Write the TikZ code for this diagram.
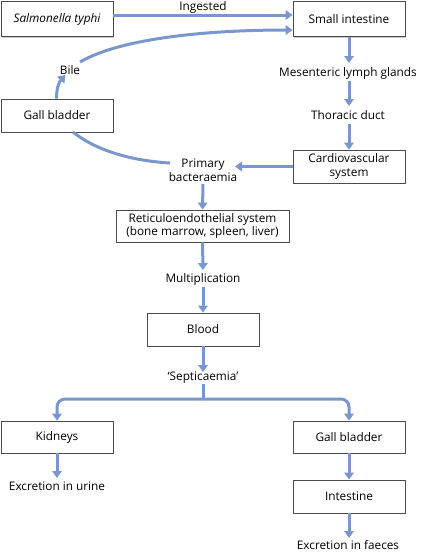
\documentclass[tikz,border=0pt]{standalone}
\usepackage{fontspec}
\setmainfont{Open Sans}
\usetikzlibrary{arrows.meta,shadows}
\definecolor{flow}{RGB}{122,150,206}
\definecolor{boxline}{RGB}{75,75,75}
\begin{document}
\begin{tikzpicture}[x=1pt,y=-1pt,
  every node/.style={font=\fontsize{11.8}{13.5}\selectfont, inner sep=0pt},
  box/.style={draw=boxline, line width=0.8pt, fill=white, minimum width=112pt, minimum height=33pt, align=center,
     drop shadow={shadow xshift=1.3pt, shadow yshift=-1.3pt, fill=black!35, opacity=0.6}},
  lbl/.style={align=center},
  flowarrow/.style={draw=flow, line width=3pt, -{Triangle[width=9.5pt,length=7pt]}},
  flowline/.style={draw=flow, line width=3pt}]
\useasboundingbox (0,0) rectangle (421,552);
% boxes
\node[box, minimum height=35pt] (sal) at (57,19) {\itshape Salmonella typhi};
\node[box, minimum height=35pt] (small) at (349,19) {Small intestine};
\node[box] (gall) at (57,115.5) {Gall bladder};
\node[box] (cardio) at (349,166.5) {Cardiovascular\\system};
\node[box, minimum width=173pt, minimum height=32pt] (reti) at (202.5,226) {Reticuloendothelial system\\(bone marrow, spleen, liver)};
\node[box] (blood) at (203,329.5) {Blood};
\node[box, minimum height=32pt] (kid) at (57,437) {Kidneys};
\node[box, minimum height=32pt] (gall2) at (349,437) {Gall bladder};
\node[box] (intest) at (349,496.5) {Intestine};
% labels
\node[lbl] (ing) at (203,7) {Ingested};
\node[lbl] (bile) at (70,70.5) {Bile};
\node[lbl] (mes) at (348,73) {Mesenteric lymph glands};
\node[lbl] (thor) at (348,115) {Thoracic duct};
\node[lbl] (prim) at (203,170) {Primary\\bacteraemia};
\node[lbl] (mult) at (203,279) {Multiplication};
\node[lbl] (sept) at (203,378) {`Septicaemia'};
\node[lbl] (urine) at (57,486) {Excretion in urine};
\node[lbl] (faeces) at (348,545.5) {Excretion in faeces};
% coordinates
\coordinate (split) at (203,399);
% connectors
\draw[flowarrow] (sal.east |- 0,15) -- (small.west |- 0,15);
\draw[flowarrow] (80,62) .. controls (125,36) and (220,30) .. (small.west |- 0,30);
\draw[flowarrow] (gall.north -| 56.5,0) .. controls (56.5,88) and (59,82) .. (65.5,75);
\draw[flowline] (73,132) .. controls (98,152) and (135,161) .. (170,163);
\draw[flowarrow] (small.south) -- (349,63);
\draw[flowarrow] (349,81) -- (349,106);
\draw[flowarrow] (349,124) -- (cardio.north);
\draw[flowarrow] (cardio.west) -- (235,166.5);
\draw[flowarrow] (203,184) -- (reti.north);
\draw[flowarrow] (reti.south) -- (203,270);
\draw[flowarrow] (203,287) -- (blood.north);
\draw[flowarrow] (blood.south) -- (203,372);
\draw[flowline] (203,384) -- (split);
\draw[flowarrow, rounded corners=8pt] (split) -- (kid.north |- split) -- (kid.north);
\draw[flowarrow, rounded corners=8pt] (split) -- (gall2.north |- split) -- (gall2.north);
\draw[flowarrow] (kid.south) -- (57,478);
\draw[flowarrow] (gall2.south) -- (intest.north);
\draw[flowarrow] (intest.south) -- (349,538);
\end{tikzpicture}
\end{document}
